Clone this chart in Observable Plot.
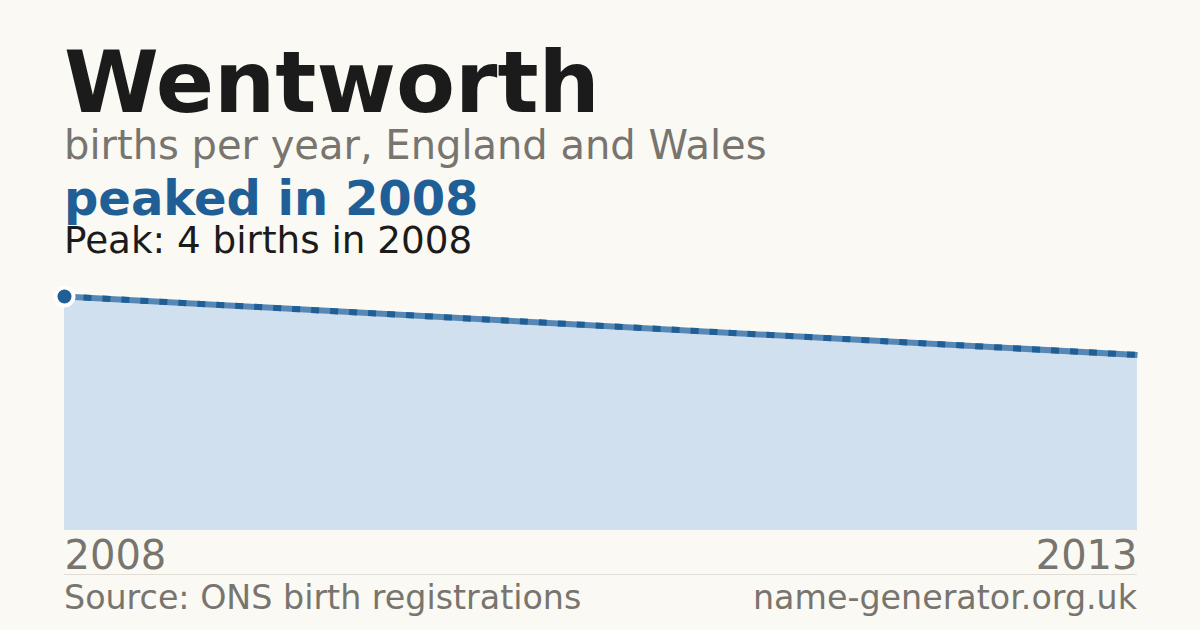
<!DOCTYPE html>
<html>
<head>
<meta charset="utf-8">
<script src="https://cdn.jsdelivr.net/npm/d3@7"></script>
<script src="https://cdn.jsdelivr.net/npm/@observablehq/plot@0.6"></script>
<style>
  html, body { margin: 0; padding: 0; background: #faf9f4; }
  body { width: 1200px; height: 630px; position: relative; overflow: hidden; font-family: "DejaVu Sans", sans-serif; }
  .t { position: absolute; white-space: nowrap; line-height: 1; }
  #title { left: 64px; top: 44px; font-size: 86px; line-height: 0.9; font-weight: bold; color: #1b1b1b; }
  #sub { left: 64px; top: 125px; font-size: 40px; color: #78746e; }
  #peaked { left: 64px; top: 174px; font-size: 48px; font-weight: bold; color: #1f5f96; }
  #peak { left: 64px; top: 222px; font-size: 37.3px; color: #1b1b1b; }
  #rule { position: absolute; left: 64px; width: 1073px; top: 574px; height: 1px; background: #e2ded6; }
  #src { left: 64px; top: 581px; font-size: 33.3px; color: #78746e; }
  #site { right: 63px; top: 581px; font-size: 33.3px; color: #78746e; }
  #chart { position: absolute; left: 0; top: 270px; }
</style>
</head>
<body>
<div class="t" id="title">Wentworth</div>
<div class="t" id="sub">births per year, England and Wales</div>
<div class="t" id="peaked">peaked in 2008</div>
<div class="t" id="peak">Peak: 4 births in 2008</div>
<div id="chart"></div>
<div id="rule"></div>
<div class="t" id="src">Source: ONS birth registrations</div>
<div class="t" id="site">name-generator.org.uk</div>
<script>
const years = [2008, 2013];
const births = [4, 3];
const peakYear = [2008];
const peakBirths = [4];
const tickYears = [2008, 2013];
const tickLabels = ["2008", "2013"];

const data = years.map((y, i) => ({year: y, births: births[i]}));
const peak = peakYear.map((y, i) => ({year: y, births: peakBirths[i]}));

const chart = Plot.plot({
  width: 1200,
  height: 310,
  marginLeft: 64,
  marginRight: 63,
  marginTop: 26,
  marginBottom: 50,
  style: {background: "transparent", fontFamily: "DejaVu Sans, sans-serif", overflow: "visible"},
  x: {domain: [2008, 2013], axis: null},
  y: {domain: [0, 4], axis: null},
  marks: [
    Plot.areaY(data, {x: "year", y: "births", fill: "#d0e0ef"}),
    Plot.lineY(data, {x: "year", y: "births", stroke: "#5788b5", strokeWidth: 6, strokeLinecap: "butt"}),
    Plot.lineY(data, {x: "year", y: "births", stroke: "#1f5f96", strokeWidth: 6, strokeLinecap: "butt", strokeDasharray: "8,11"}),
    Plot.dot(peak, {x: "year", y: "births", r: 9, fill: "#1f5f96", stroke: "#ffffff", strokeWidth: 4}),
    Plot.text([tickLabels[0]], {x: [tickYears[0]], frameAnchor: "bottom", textAnchor: "start", lineAnchor: "bottom", dy: 38, fontSize: 40, fill: "#78746e"}),
    Plot.text([tickLabels[1]], {x: [tickYears[1]], frameAnchor: "bottom", textAnchor: "end", lineAnchor: "bottom", dy: 38, fontSize: 40, fill: "#78746e"})
  ]
});
document.getElementById("chart").appendChild(chart);
</script>
</body>
</html>
